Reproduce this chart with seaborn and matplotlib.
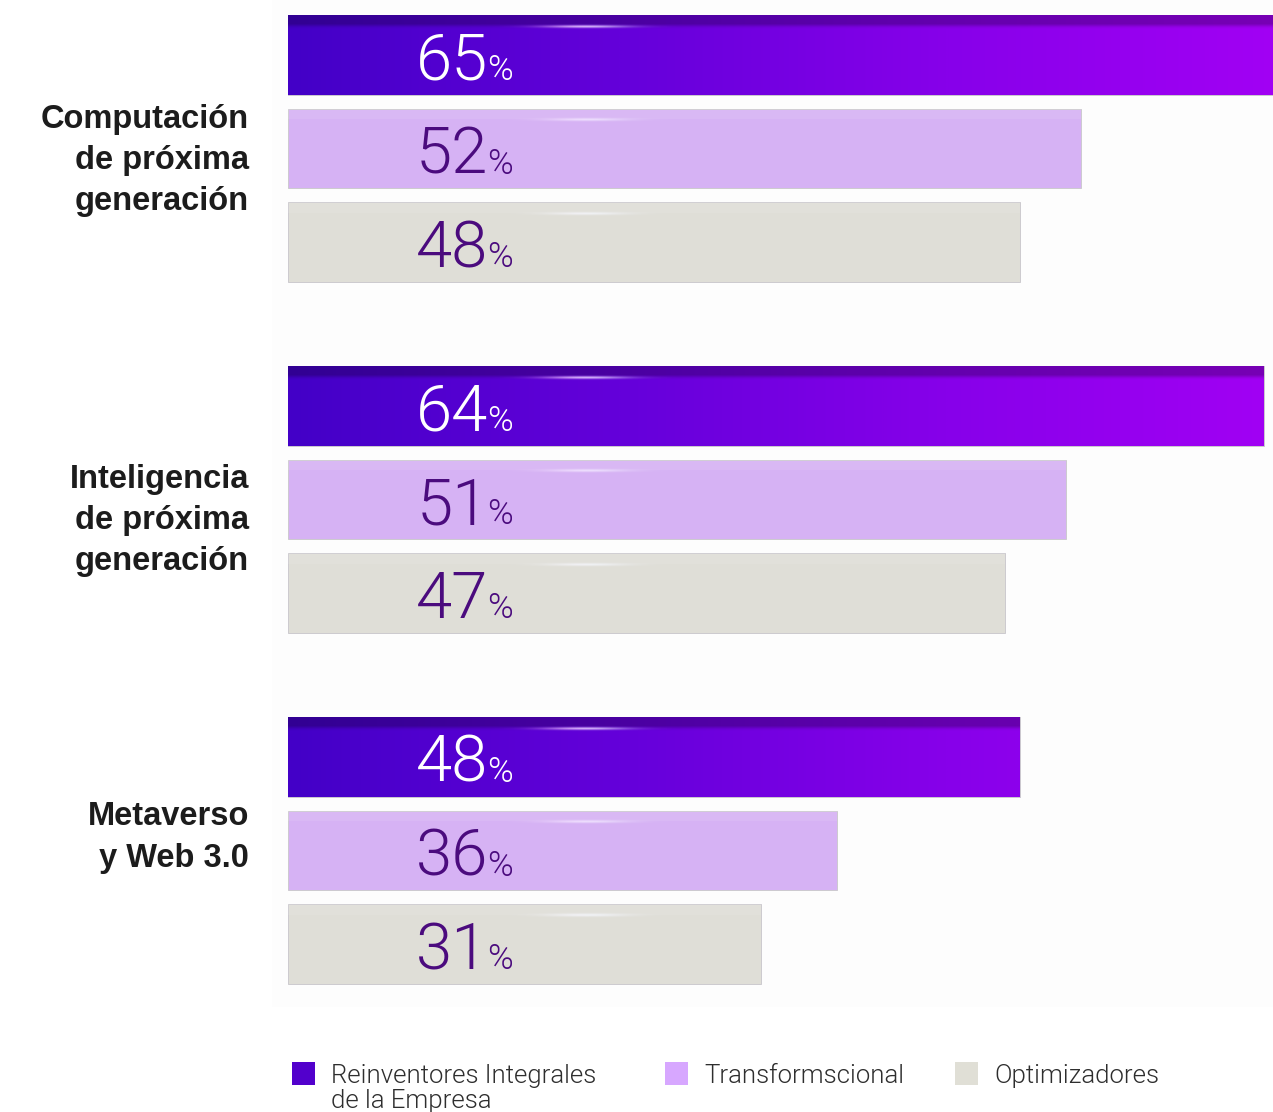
import numpy as np
import pandas as pd
import matplotlib
matplotlib.use("Agg")
import matplotlib.pyplot as plt
from matplotlib.patches import Rectangle
from matplotlib.colors import LinearSegmentedColormap, to_rgb
import seaborn as sns

# ---- data -------------------------------------------------------------
categories = [
    "Computación\nde próxima\ngeneración",
    "Inteligencia\nde próxima\ngeneración",
    "Metaverso\ny Web 3.0",
]
series = [
    "Reinventores Integrales\nde la Empresa",
    "Transformscional",
    "Optimizadores",
]
reinventores = [65, 64, 48]
transformacional = [52, 51, 36]
optimizadores = [48, 47, 31]

colors = ["#4f00d2", "#d7a7ff", "#e0dfd6"]
label_colors = ["#ffffff", "#4b0b7e", "#4b0b7e"]

df = pd.DataFrame({
    "categoria": np.repeat(categories, 3),
    "grupo": series * len(categories),
    "valor": np.ravel(np.column_stack([reinventores, transformacional, optimizadores])),
})

# ---- figure -----------------------------------------------------------
W, H = 1273, 1112
sns.set_theme(style="white")
plt.rcParams["font.family"] = ["Roboto", "DejaVu Sans"]
LIGHT = 300

fig = plt.figure(figsize=(W / 100, H / 100), dpi=100)
fig.patch.set_facecolor("white")
# faint panel behind the bars
fig.patches.append(Rectangle((272 / W, 1 - 1007 / H), 1 - 272 / W, 1007 / H,
                             transform=fig.transFigure, facecolor="#fdfdfd",
                             edgecolor="none", zorder=-5))

ax = fig.add_axes([288 / W, 1 - 1010 / H, 985 / W, 1010 / H])
ax.set_facecolor("none")

sns.barplot(data=df, y="categoria", x="valor", hue="grupo", orient="h",
            palette=colors, width=0.8, gap=0.15, order=categories,
            hue_order=series, edgecolor="#cdcacf", linewidth=0.7,
            legend=False, ax=ax)

px_per_unit = 351.0
XMAX = 64.6
YLIM = ((1010 - 148.5) / px_per_unit, -148.5 / px_per_unit)

# gradient fill for the first series
grad_cmap = LinearSegmentedColormap.from_list(
    "reinv", ["#4300c7", "#6400da", "#8700ea", "#a200f4"])
ncols, nrows = 400, 60
base = grad_cmap(np.linspace(0, 1, ncols))[:, :3]
img = np.repeat(base[None, :, :], nrows, axis=0)
shade = np.ones(nrows)
top_rows = int(nrows * 0.13)
shade[:top_rows] = 0.74
shade[top_rows:top_rows + 3] = [0.82, 0.91, 0.97]
img = img * shade[:, None, None]

# soft glint texture
gx = np.linspace(-1, 1, 240)
gy = np.linspace(-1, 1, 24)
GX, GY = np.meshgrid(gx, gy)
glint_alpha = np.exp(-(GX / 0.42) ** 2 - (GY / 0.4) ** 2)
mix = np.clip((gx + 1) / 2, 0, 1)[None, :, None]
glint_tints = [("#f7a8ff", "#cfe0ff"), ("#f4dcff", "#f2f5ff"), ("#f6f4f8", "#f4f8ff")]

n_cat = len(categories)
patches = list(ax.patches)
for s_idx in range(3):
    c_left = np.array(to_rgb(glint_tints[s_idx][0]))
    c_right = np.array(to_rgb(glint_tints[s_idx][1]))
    glint = np.zeros((24, 240, 4))
    glint[..., :3] = c_left * (1 - mix) + c_right * mix
    glint[..., 3] = glint_alpha * (0.95 if s_idx == 0 else 0.85)
    for c_idx in range(n_cat):
        p = patches[s_idx * n_cat + c_idx]
        x0, y0 = p.get_x(), p.get_y()
        w, h = p.get_width(), p.get_height()
        if s_idx == 0:
            im = ax.imshow(img, extent=[0, 65.0, y0 + h, y0], aspect="auto",
                           interpolation="bilinear", zorder=2)
            im.set_clip_path(p)
        else:
            # slightly lighter top band
            ax.add_patch(Rectangle((x0, y0), w, h * 0.13, facecolor="white",
                                   alpha=0.09, edgecolor="none", zorder=2))

        gcy = y0 + 11 / px_per_unit
        ax.imshow(glint, extent=[13.0, 26.0, gcy + 3.5 / px_per_unit,
                                 gcy - 3.5 / px_per_unit],
                  aspect="auto", interpolation="bilinear", zorder=3)

        # value label: big number + small percent sign
        val = df["valor"].iloc[c_idx * 3 + s_idx]
        yc = y0 + h / 2 + 25 / px_per_unit
        ax.text(13.15, yc, f"{val:g}", ha="right", va="baseline",
                fontsize=47, fontweight=LIGHT, color=label_colors[s_idx],
                zorder=5)
        ax.text(13.05, yc, "%", ha="left", va="baseline",
                fontsize=25, fontweight=LIGHT, color=label_colors[s_idx],
                zorder=5)

ax.set_xlim(0, XMAX)
ax.set_ylim(*YLIM)

for sp in ax.spines.values():
    sp.set_visible(False)
ax.set_xlabel("")
ax.set_ylabel("")
ax.set_xticks([])
ax.set_yticks([])

# category labels, right-aligned left of the bars
label_shift_px = [-12, -21, 13]
for i, (cat, dy) in enumerate(zip(categories, label_shift_px)):
    ax.annotate(cat, xy=(0, i), xycoords=("axes fraction", "data"),
                xytext=(-39, dy), textcoords="offset pixels",
                ha="right", va="center", fontsize=23.5, fontweight="bold",
                family=["Liberation Sans", "DejaVu Sans"], color="#1c1c1c",
                linespacing=1.43, annotation_clip=False)

# legend
legend_x = [292, 665, 955]
for name, c, lx in zip(series, colors, legend_x):
    fig.patches.append(Rectangle((lx / W, 1 - 1085 / H), 23 / W, 23 / H,
                                 transform=fig.transFigure, facecolor=c,
                                 edgecolor="none"))
    fig.text((lx + 39) / W, 1 - 1064 / H, name, ha="left", va="top",
             fontsize=18.5, fontweight=LIGHT, color="#2e2e2e", linespacing=1.05)
fig.patches[1].set_facecolor("#5200cc")

fig.savefig("out.png", dpi=100, facecolor="white")
